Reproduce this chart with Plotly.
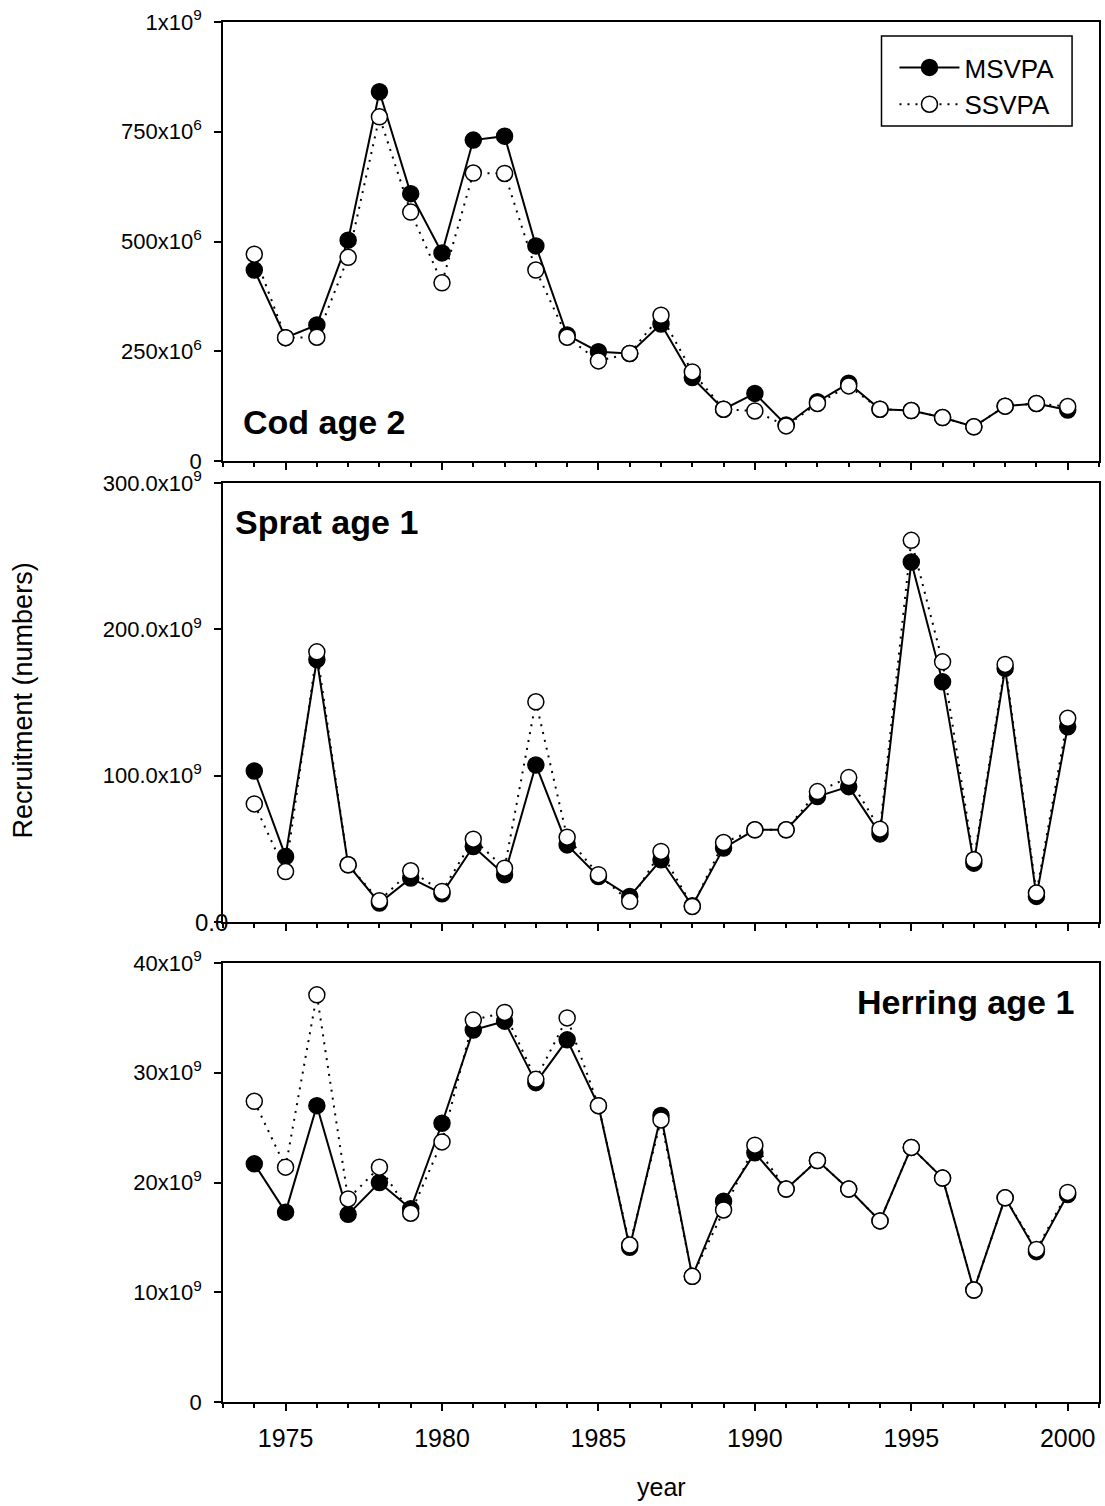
import plotly.graph_objects as go

years = list(range(1974, 2001))

# Cod age 2 (numbers x10^6)
cod_ms = [435, 281, 310, 503, 841, 609, 474, 731, 740, 490, 287, 249, 245, 312, 190, 118, 154,
          82, 135, 177, 118, 115, 99, 78, 125, 131, 116]
cod_ss = [471, 281, 282, 464, 784, 567, 406, 656, 655, 435, 282, 228, 245, 332, 203, 118, 114,
          80, 131, 171, 118, 115, 99, 78, 125, 131, 124]

# Sprat age 1 (numbers x10^9)
sprat_ms = [103.2, 44.8, 179.4, 39.1, 13.0, 30.0, 19.3, 51.6, 32.3, 107.3, 52.7, 31.1, 17.5, 42.5,
            11.1, 50.5, 63.0, 63.0, 85.7, 92.5, 60.2, 246.0, 164.1, 40.2, 173.3, 17.5, 133.4]
sprat_ss = [80.7, 34.5, 184.6, 39.1, 14.5, 35.0, 20.9, 56.6, 36.8, 150.5, 58.0, 32.3, 14.1, 48.2,
            10.6, 54.3, 63.0, 63.0, 89.1, 98.7, 63.4, 260.8, 177.8, 42.5, 176.0, 19.8, 139.2]

# Herring age 1 (numbers x10^9)
herring_ms = [21.7, 17.3, 27.0, 17.1, 20.0, 17.6, 25.4, 33.9, 34.7, 29.1, 33.0, 27.0, 14.1, 26.1,
              11.45, 18.3, 22.7, 19.4, 22.0, 19.4, 16.5, 23.2, 20.4, 10.2, 18.6, 13.7, 18.9]
herring_ss = [27.4, 21.4, 37.1, 18.5, 21.4, 17.2, 23.7, 34.8, 35.5, 29.4, 35.0, 27.0, 14.3, 25.7,
              11.45, 17.5, 23.4, 19.4, 22.0, 19.4, 16.5, 23.2, 20.4, 10.2, 18.6, 13.9, 19.1]

x_ticks = [1975, 1980, 1985, 1990, 1995, 2000]
cod_ticks = [0, 250, 500, 750, 1000]
cod_ticktext = ["0", "250x10<sup>6</sup>", "500x10<sup>6</sup>", "750x10<sup>6</sup>", "1x10<sup>9</sup>"]
sprat_ticks = [0, 100, 200, 300]
sprat_ticktext = ["", "100.0x10<sup>9</sup>", "200.0x10<sup>9</sup>", "300.0x10<sup>9</sup>"]
herring_ticks = [0, 10, 20, 30, 40]
herring_ticktext = ["0", "10x10<sup>9</sup>", "20x10<sup>9</sup>", "30x10<sup>9</sup>", "40x10<sup>9</sup>"]

FONT = "Liberation Sans, Arial, sans-serif"
W, H = 1105, 1506
ML, MR, MT, MB = 223, 4, 22, 104
PH = H - MT - MB
PW = W - ML - MR


def py(pix):
    return (H - MB - pix) / PH


def px(pix):
    return (pix - ML) / PW


fig = go.Figure()

panels = [
    ("x", "y", cod_ms, cod_ss, True),
    ("x2", "y2", sprat_ms, sprat_ss, False),
    ("x3", "y3", herring_ms, herring_ss, False),
]
for xa, ya, ms, ss, show in panels:
    fig.add_trace(go.Scatter(
        x=years, y=ms, xaxis=xa, yaxis=ya, name="MSVPA", mode="lines+markers",
        line=dict(color="black", width=2),
        marker=dict(symbol="circle", size=16, color="black", line=dict(color="black", width=1.5)),
        showlegend=show, legendgroup="ms"))
    fig.add_trace(go.Scatter(
        x=years, y=ss, xaxis=xa, yaxis=ya, name="SSVPA", mode="lines+markers",
        line=dict(color="black", width=2, dash="2px,6px"),
        marker=dict(symbol="circle", size=16, color="white", line=dict(color="black", width=1.5)),
        showlegend=show, legendgroup="ss"))

axis_common = dict(showline=True, linecolor="black", linewidth=1.5, mirror=True,
                   showgrid=False, zeroline=False, ticks="outside", ticklen=7,
                   tickwidth=1.5, tickcolor="black")

xcommon = dict(axis_common, range=[1973, 2001], tickvals=x_ticks,
               tickfont=dict(family=FONT, size=25, color="black"),
               minor=dict(dtick=1, tick0=1973, ticks="outside", ticklen=4,
                          tickwidth=1.5, tickcolor="black"))
ycommon = dict(axis_common, tickfont=dict(family=FONT, size=22, color="black"),
               ticklabelstandoff=8)

dom_top = [py(461), 1.0]
dom_mid = [py(922), py(483)]
dom_bot = [0.0, py(963)]

fig.update_layout(
    width=W, height=H,
    margin=dict(l=ML, r=MR, t=MT, b=MB, pad=0),
    paper_bgcolor="white", plot_bgcolor="white",
    font=dict(family=FONT, color="black"),
    xaxis=dict(xcommon, domain=[0, 1], anchor="y", showticklabels=False),
    xaxis2=dict(xcommon, domain=[0, 1], anchor="y2", showticklabels=False),
    xaxis3=dict(xcommon, domain=[0, 1], anchor="y3", ticklabelstandoff=6),
    yaxis=dict(ycommon, domain=dom_top, anchor="x", range=[0, 1000],
               tickvals=cod_ticks, ticktext=cod_ticktext),
    yaxis2=dict(ycommon, domain=dom_mid, anchor="x2", range=[0, 300],
                tickvals=sprat_ticks, ticktext=sprat_ticktext),
    yaxis3=dict(ycommon, domain=dom_bot, anchor="x3", range=[0, 40],
                tickvals=herring_ticks, ticktext=herring_ticktext),
    legend=dict(x=px(896), y=py(86), xanchor="left", yanchor="middle",
                borderwidth=0, bgcolor="rgba(0,0,0,0)",
                font=dict(family=FONT, size=26, color="black"),
                itemwidth=60, tracegroupgap=0),
    showlegend=True,
    shapes=[dict(type="rect", xref="paper", yref="paper",
                 x0=px(883), x1=px(1074), y0=py(126), y1=py(36),
                 line=dict(color="black", width=1.5), fillcolor="rgba(0,0,0,0)")],
)

annotations = [
    dict(text="<b>Cod age 2</b>", x=px(241), y=py(422), xanchor="left", yanchor="middle",
         font=dict(size=34)),
    dict(text="<b>Sprat age 1</b>", x=px(233), y=py(522), xanchor="left", yanchor="middle",
         font=dict(size=34)),
    dict(text="<b>Herring age 1</b>", x=px(1078), y=py(1002), xanchor="right", yanchor="middle",
         font=dict(size=34)),
    dict(text="0.0", x=px(230), y=py(922), xanchor="right", yanchor="middle",
         font=dict(size=24)),
    dict(text="Recruitment (numbers)", x=px(23), y=py(700), xanchor="center", yanchor="middle",
         textangle=-90, font=dict(size=27)),
    dict(text="year", x=px(663), y=py(1487), xanchor="center", yanchor="middle",
         font=dict(size=25)),
]
for a in annotations:
    a.update(xref="paper", yref="paper", showarrow=False)
    a["font"] = dict(a["font"], family=FONT, color="black")
fig.update_layout(annotations=annotations)

fig.write_html("out.html", config={"displayModeBar": False},
               post_script="document.body.style.margin='0px';document.body.style.overflow='hidden';")
